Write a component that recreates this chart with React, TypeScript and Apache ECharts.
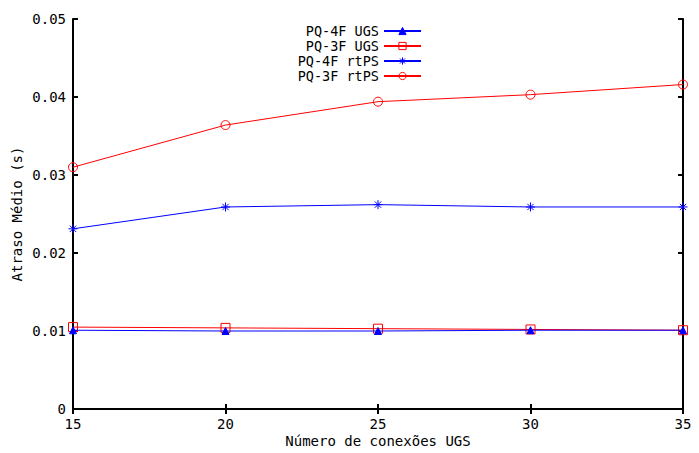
import React, { useEffect, useRef } from "react";
import * as echarts from "echarts";

const xValues = [15, 20, 25, 30, 35];
const pq4fUgs = [0.0101, 0.01, 0.01, 0.0101, 0.0101];
const pq3fUgs = [0.0105, 0.0104, 0.0103, 0.0102, 0.0101];
const pq4fRtps = [0.0231, 0.0259, 0.0262, 0.0259, 0.0259];
const pq3fRtps = [0.031, 0.0364, 0.0394, 0.0403, 0.0416];

const FONT = "DejaVu Sans Mono";
const FS = 14;
const asterisk = "path://M0,5L10,5M5,0L5,10M1.5,1.5L8.5,8.5M1.5,8.5L8.5,1.5";

export default function App() {
  const ref = useRef<HTMLDivElement>(null);
  useEffect(() => {
    const chart = echarts.init(ref.current!, null, { renderer: "svg" });
    const pair = (ys: number[]) => xValues.map((x, i) => [x, ys[i]]);
    const mk = (name: string, ys: number[], color: string, symbol: string, size: number, z: number, fill: string) => ({
      name,
      type: "line",
      data: pair(ys),
      symbol,
      symbolSize: size,
      z,
      lineStyle: { color, width: 1 },
      itemStyle: { color: fill, borderColor: color, borderWidth: 1 },
      emphasis: { disabled: true },
    });
    chart.setOption({
      animation: false,
      grid: { left: 73, right: 16, top: 19, bottom: 44, containLabel: false },
      legend: {
        orient: "vertical",
        align: "right",
        right: 277,
        top: 24,
        itemWidth: 37,
        itemHeight: 9,
        itemGap: 1,
        padding: 0,
        itemStyle: { borderWidth: 1 },
        textStyle: { fontFamily: FONT, fontSize: 13.5, color: "#000", lineHeight: 13 },
        data: ["PQ-4F UGS", "PQ-3F UGS", "PQ-4F rtPS", "PQ-3F rtPS"],
      },
      xAxis: [
        {
          type: "value",
          min: 15,
          max: 35,
          interval: 5,
          name: "Número de conexões UGS",
          nameLocation: "middle",
          nameGap: 25,
          nameMoveOverlap: false,
          nameTextStyle: { fontFamily: FONT, fontSize: FS, color: "#000", verticalAlign: "top" },
          axisLine: { lineStyle: { color: "#000", width: 2 } },
          axisTick: { inside: true, length: 5, lineStyle: { color: "#000", width: 2 } },
          axisLabel: { fontFamily: FONT, fontSize: FS, color: "#000", margin: 8 },
          splitLine: { show: false },
        },
        {
          type: "value",
          position: "top",
          min: 15,
          max: 35,
          interval: 5,
          axisLine: { lineStyle: { color: "#000", width: 2 } },
          axisTick: { inside: true, length: 5, lineStyle: { color: "#000", width: 2 } },
          axisLabel: { show: false },
          splitLine: { show: false },
        },
      ],
      yAxis: [
        {
          type: "value",
          min: 0,
          max: 0.05,
          interval: 0.01,
          name: "Atraso Médio (s)",
          nameLocation: "middle",
          nameGap: 49,
          nameMoveOverlap: false,
          nameTextStyle: { fontFamily: FONT, fontSize: FS, color: "#000" },
          axisLine: { show: true, lineStyle: { color: "#000", width: 2 } },
          axisTick: { show: true, inside: true, length: 5, lineStyle: { color: "#000", width: 2 } },
          axisLabel: {
            fontFamily: FONT,
            fontSize: FS,
            color: "#000",
            margin: 7,
            formatter: (v: number) => (v === 0 ? "0" : v.toFixed(2)),
          },
          splitLine: { show: false },
        },
        {
          type: "value",
          position: "right",
          min: 0,
          max: 0.05,
          interval: 0.01,
          axisLine: { show: true, lineStyle: { color: "#000", width: 2 } },
          axisTick: { show: true, inside: true, length: 5, lineStyle: { color: "#000", width: 2 } },
          axisLabel: { show: false },
          splitLine: { show: false },
        },
      ],
      series: [
        mk("PQ-4F UGS", pq4fUgs, "#0000ff", "triangle", 7, 4, "#0000ff"),
        mk("PQ-3F UGS", pq3fUgs, "#ff0000", "rect", 9, 2, "rgba(0,0,0,0)"),
        mk("PQ-4F rtPS", pq4fRtps, "#0000ff", asterisk, 9, 3, "#0000ff"),
        mk("PQ-3F rtPS", pq3fRtps, "#ff0000", "circle", 9, 3, "rgba(0,0,0,0)"),
      ],
    });
    return () => chart.dispose();
  }, []);
  return <div ref={ref} style={{ width: 699, height: 453, position: "fixed", left: 0, top: 0, background: "#fff" }} />;
}
